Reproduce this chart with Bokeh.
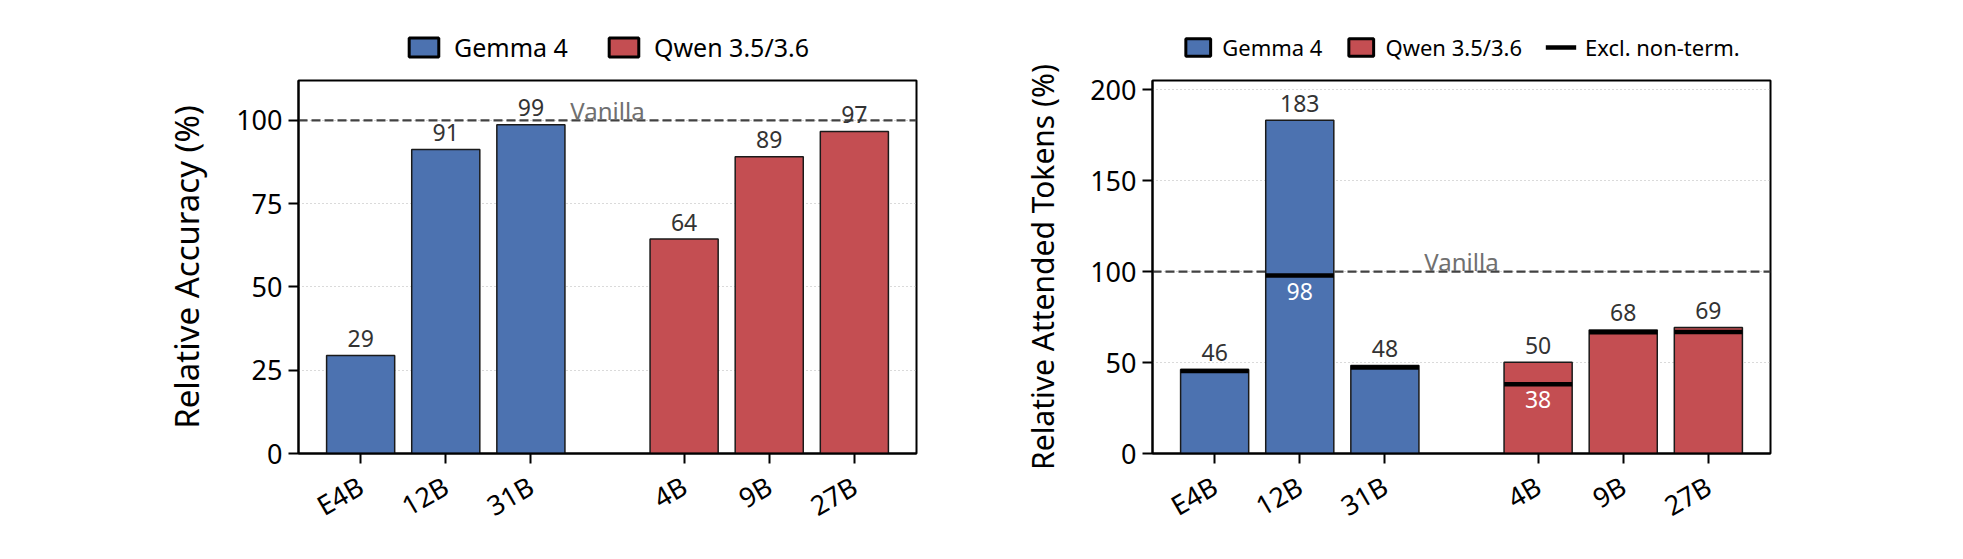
import math

from bokeh.core.properties import value
from bokeh.embed import file_html
from bokeh.layouts import column, row
from bokeh.models import ColumnDataSource, FixedTicker, Label, Legend, LegendItem, Range1d, Span
from bokeh.plotting import figure
from bokeh.resources import INLINE

FONT = "Noto Sans"
BLUE = "#4c72b0"
RED = "#c44e52"

# model sizes per family, Qwen group is shifted right to leave a gap
gemma_models = ["E4B", "12B", "31B"]
qwen_models = ["4B", "9B", "27B"]
gemma_x = [0, 1, 2]
qwen_x = [3.8, 4.8, 5.8]

# relative accuracy (%) vs vanilla
accuracy_gemma = [29.4, 91.3, 98.7]
accuracy_qwen = [64.4, 89.1, 96.7]

# relative attended tokens (%) vs vanilla, total and excluding non-terminated
tokens_gemma = [46.2, 183.2, 48.3]
tokens_qwen = [50.2, 67.9, 69.2]
excl_gemma = [45.4, 97.8, 47.2]
excl_qwen = [38.0, 66.7, 66.8]

acc_ticks = [0, 25, 50, 75, 100]
tok_ticks = [0, 50, 100, 150, 200]
BAR_W = 0.8
FRAME_W, FRAME_H = 618, 373


def make_figure(border_left, border_right, y_max, ticks, ylabel, label_size):
    p = figure(frame_width=FRAME_W, frame_height=FRAME_H, output_backend="svg", toolbar_location=None,
               x_range=Range1d(-0.73, 6.53), y_range=Range1d(0, y_max),
               min_border_left=border_left, min_border_right=border_right,
               min_border_top=16, min_border_bottom=82)
    p.title.visible = False
    p.outline_line_color = "black"
    p.outline_line_width = 2
    p.xgrid.grid_line_color = None
    p.ygrid.grid_line_color = "#b5b5b5"
    p.ygrid.grid_line_dash = "1 3"
    p.ygrid.grid_line_width = 1

    xs = gemma_x + qwen_x
    p.xaxis.ticker = FixedTicker(ticks=xs)
    p.xaxis.major_label_overrides = dict(zip(xs, gemma_models + qwen_models))
    p.xaxis.major_label_orientation = math.pi / 6
    p.yaxis.ticker = FixedTicker(ticks=ticks)
    p.yaxis.axis_label = ylabel
    p.yaxis.axis_label_standoff = 24
    p.yaxis.axis_label_text_font = FONT
    p.yaxis.axis_label_text_font_size = label_size
    p.yaxis.axis_label_text_font_style = "normal"
    p.yaxis.axis_label_text_color = "black"
    for ax in (p.xaxis, p.yaxis):
        ax.axis_line_width = 2
        ax.major_tick_line_width = 2
        ax.major_tick_out = 10
        ax.major_tick_in = 0
        ax.minor_tick_line_color = None
        ax.major_label_text_font = FONT
        ax.major_label_text_font_size = "27px"
        ax.major_label_text_color = "black"
        ax.major_label_standoff = 6
    p.xaxis.major_label_standoff = 20

    vanilla = Span(location=100, dimension="width", line_color="#424242",
                   line_width=2.3, line_dash="9 4", level="underlay")
    p.add_layout(vanilla)
    p.add_layout(Label(x=2.9, y=100, y_offset=10, text="Vanilla", text_align="center",
                       text_baseline="alphabetic", text_color="#707070",
                       text_font=FONT, text_font_size="24px"))
    return p


def add_bars(p, xs, tops, color):
    src = ColumnDataSource(data=dict(x=xs, top=tops, label=[f"{v:.0f}" for v in tops]))
    p.vbar(x="x", top="top", width=BAR_W, source=src, fill_color=color,
           line_color="#1a1a1a", line_width=1.5)
    p.text(x="x", y="top", text="label", source=src, y_offset=-17, text_align="center",
           text_baseline="alphabetic", text_color="#333333", text_font=value(FONT),
           text_font_size="23px")


def legend_figure(border_left, border_right, entries, font_size, glyph_w, glyph_h, standoff, spacing):
    # a small frameless figure that only carries the legend above a chart;
    # its stand-in glyphs are hidden, only their legend swatches show
    lf = figure(frame_width=FRAME_W, frame_height=34, output_backend="svg", toolbar_location=None,
                x_range=Range1d(0, 1), y_range=Range1d(0, 1),
                min_border_left=border_left, min_border_right=border_right,
                min_border_top=30, min_border_bottom=0)
    lf.title.visible = False
    lf.axis.visible = False
    lf.grid.grid_line_color = None
    lf.outline_line_color = None
    items = []
    for label, kind, color in entries:
        if kind == "bar":
            r = lf.vbar(x=[-5], top=[-5], width=0.1, fill_color=color, line_color="black", line_width=3)
        else:
            r = lf.segment(x0=[-5], y0=[-5], x1=[-4], y1=[-5], line_color=color, line_width=4.5,
                           line_cap="butt")
        r.visible = False
        items.append(LegendItem(label=label, renderers=[r]))
    lf.add_layout(Legend(items=items, orientation="horizontal", location="center", margin=0,
                         padding=0, spacing=spacing, glyph_width=glyph_w, glyph_height=glyph_h,
                         label_standoff=standoff, label_text_font=FONT, label_text_color="black",
                         label_text_font_size=font_size, border_line_color=None,
                         background_fill_alpha=0))
    return lf


# left panel: accuracy
left = make_figure(298, 80, 112, acc_ticks, "Relative Accuracy (%)", "33px")
add_bars(left, gemma_x, accuracy_gemma, BLUE)
add_bars(left, qwen_x, accuracy_qwen, RED)
leg_left = legend_figure(298, 80, [("Gemma 4", "bar", BLUE), ("Qwen 3.5/3.6", "bar", RED)],
                         "25px", 37, 24, 12, 37)

# right panel: attended tokens
right = make_figure(156, 100, 205, tok_ticks, "Relative Attended Tokens (%)", "30px")
add_bars(right, gemma_x, tokens_gemma, BLUE)
add_bars(right, qwen_x, tokens_qwen, RED)

xs = gemma_x + qwen_x
excl = excl_gemma + excl_qwen
totals = tokens_gemma + tokens_qwen
excl_src = ColumnDataSource(data=dict(x0=[x - BAR_W / 2 for x in xs], x1=[x + BAR_W / 2 for x in xs],
                                      y=excl))
right.segment(x0="x0", y0="y", x1="x1", y1="y", source=excl_src, line_color="black",
              line_width=4.5, line_cap="butt")
# show the excluded value only where it differs clearly from the total
inner = [(x, e) for x, e, t in zip(xs, excl, totals) if t - e > 5]
inner_src = ColumnDataSource(data=dict(x=[i[0] for i in inner], y=[i[1] for i in inner],
                                       label=[f"{i[1]:.0f}" for i in inner]))
right.text(x="x", y="y", text="label", source=inner_src, y_offset=7, text_align="center",
           text_baseline="top", text_color="white", text_font=value(FONT),
           text_font_size="23px")
leg_right = legend_figure(156, 100, [("Gemma 4", "bar", BLUE), ("Qwen 3.5/3.6", "bar", RED),
                                     ("Excl. non-term.", "line", "black")],
                          "22px", 31, 22, 9, 23)

layout = row(column(leg_left, left), column(leg_right, right))
open("out.html", "w").write(file_html(layout, INLINE))
